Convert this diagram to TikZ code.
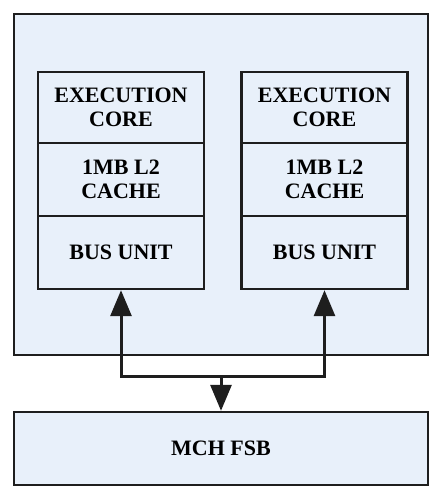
\documentclass[tikz,border=0pt]{standalone}
\usepackage{fontspec}
\setmainfont{Liberation Serif}
\usetikzlibrary{arrows.meta}
\definecolor{boxfill}{RGB}{232,240,250}
\definecolor{boxline}{RGB}{30,30,30}
\tikzset{
  unitbox/.style={draw=boxline,fill=boxfill,line width=1.2pt,minimum width=83pt,
    inner sep=0pt,align=center,font=\bfseries\fontsize{11}{12}\selectfont},
  busline/.style={draw=boxline,line width=1.5pt,
    -{Triangle[width=10.5pt,length=13pt]}}
}
\begin{document}
\begin{tikzpicture}[x=0.5pt,y=-0.5pt]
\useasboundingbox (0,0) rectangle (446,499);
% outer package and front side bus
\node[unitbox,minimum width=207pt,minimum height=170.5pt] (chip) at (221,184.5) {};
\node[unitbox,minimum width=207pt,minimum height=36.5pt] (fsb) at (221,448.5) {MCH FSB};
% core 1
\node[unitbox,minimum height=35.5pt] (exec1) at (121,107.5) {EXECUTION\\CORE};
\node[unitbox,minimum height=36.5pt] (cache1) at (121,179.5) {1MB L2\\CACHE};
\node[unitbox,minimum height=36.5pt] (bus1) at (121,252.5) {BUS UNIT};
% core 2
\node[unitbox,minimum height=35.5pt] (exec2) at (324.5,107.5) {EXECUTION\\CORE};
\node[unitbox,minimum height=36.5pt] (cache2) at (324.5,179.5) {1MB L2\\CACHE};
\node[unitbox,minimum height=36.5pt] (bus2) at (324.5,252.5) {BUS UNIT};
% bus
\coordinate (join) at (221,376);
\draw[busline,{Triangle[width=10.5pt,length=13pt]}-{Triangle[width=10.5pt,length=13pt]}]
  (bus1.south) |- (join) -| (bus2.south);
\draw[busline] (join) -- (fsb.north);
\end{tikzpicture}
\end{document}
